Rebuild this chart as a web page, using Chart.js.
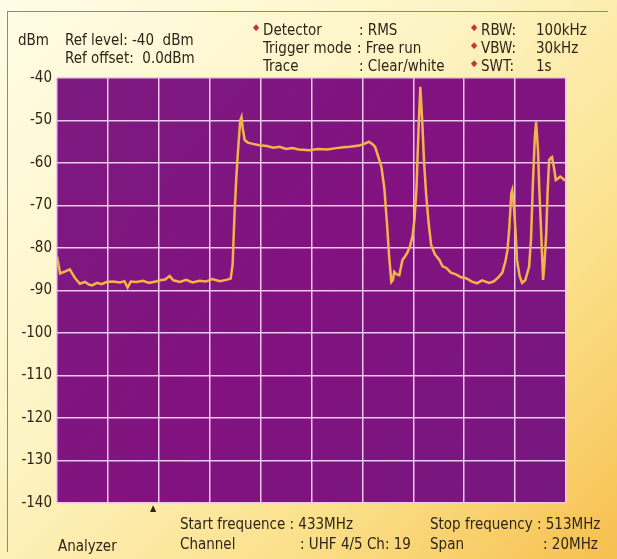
<!DOCTYPE html>
<html>
<head>
<meta charset="utf-8">
<script src="https://cdn.jsdelivr.net/npm/chart.js@4.4.1/dist/chart.umd.min.js"></script>
<style>
  html, body { margin: 0; padding: 0; }
  body {
    width: 617px; height: 559px; overflow: hidden; position: relative;
    background: linear-gradient(135deg, #fffce6 0%, #fdf4c4 40%, #fbe08a 72%, #f6bf4e 100%);
    font-family: "Liberation Sans Narrow", "DejaVu Sans Condensed", "Liberation Sans", sans-serif;
    color: #2e2418;
  }
  #frame { position: absolute; left: 7px; top: 11px; width: 600px; height: 540px;
    border-top: 1px solid #8a8a80; border-left: 1px solid #8a8a80; }
  #wrap { position: absolute; left: 0; top: 0; width: 617px; height: 559px; }
  .t { position: absolute; font-size: 15px; white-space: nowrap; line-height: 17px; }
  .d { color: #c8323c; font-size: 9px; position: absolute; }
</style>
</head>
<body>
<div id="frame"></div>
<div id="wrap"><canvas id="spectre" width="617" height="559"></canvas></div>

<div class="t" style="left:18px; top:32px;">dBm</div>
<div class="t" style="left:65px; top:32px;">Ref level: -40&nbsp; dBm</div>
<div class="t" style="left:65px; top:50px;">Ref offset:&nbsp; 0.0dBm</div>

<span class="d" style="left:253px; top:22px;">◆</span>
<div class="t" style="left:263px; top:22px;">Detector</div>
<div class="t" style="left:263px; top:40px;">Trigger mode</div>
<div class="t" style="left:263px; top:58px;">Trace</div>
<div class="t" style="left:359px; top:22px;">: RMS</div>
<div class="t" style="left:357px; top:40px;">: Free run</div>
<div class="t" style="left:359px; top:58px;">: Clear/white</div>

<span class="d" style="left:471px; top:22px;">◆</span>
<span class="d" style="left:471px; top:40px;">◆</span>
<span class="d" style="left:471px; top:58px;">◆</span>
<div class="t" style="left:481px; top:22px;">RBW:</div>
<div class="t" style="left:481px; top:40px;">VBW:</div>
<div class="t" style="left:481px; top:58px;">SWT:</div>
<div class="t" style="left:536px; top:22px;">100kHz</div>
<div class="t" style="left:536px; top:40px;">30kHz</div>
<div class="t" style="left:536px; top:58px;">1s</div>

<div class="t" style="left:150px; top:500px; font-size:9px;">▲</div>
<div class="t" style="left:180px; top:516px;">Start frequence : 433MHz</div>
<div class="t" style="left:180px; top:536px;">Channel</div>
<div class="t" style="left:300px; top:536px;">: UHF 4/5 Ch: 19</div>
<div class="t" style="left:430px; top:516px;">Stop frequency : 513MHz</div>
<div class="t" style="left:430px; top:536px;">Span</div>
<div class="t" style="left:543px; top:536px;">: 20MHz</div>
<div class="t" style="left:58px; top:538px;">Analyzer</div>

<script>
// fréquences (MHz) et niveaux (dBm)
const freqMHz = [
  433.0, 433.5, 434.3, 435.0, 435.8, 436.6, 437.4, 438.0, 438.5, 439.3,
  440.0, 440.8, 441.8, 442.9, 443.6, 444.1, 444.6, 445.5, 446.5, 447.5,
  448.5, 449.2, 450.0, 450.7, 451.3, 452.3, 453.3, 454.3, 455.4, 456.4,
  457.4, 458.6, 459.6, 460.3, 460.6, 460.9, 461.2, 461.5, 461.8, 462.0,
  462.2, 462.5, 463.0, 463.8, 464.8, 466.0, 467.0, 468.0, 469.0, 470.0,
  471.0, 472.7, 474.0, 475.5, 476.9, 478.0, 479.0, 480.5, 481.6, 482.0,
  482.6, 483.0, 483.7, 484.0, 484.45, 484.9, 485.2, 485.55, 485.8, 486.0,
  486.4, 486.8, 487.3, 487.7, 488.1, 488.5, 488.9, 489.2, 489.5, 489.8,
  490.1, 490.4, 490.7, 491.0, 491.4, 491.8, 492.4, 493.1, 493.6, 494.2,
  494.9, 495.7, 496.5, 497.3, 498.2, 499.0, 499.8, 500.9, 501.6, 502.3,
  503.0, 503.5, 503.8, 504.1, 504.4, 504.55, 504.85, 505.1, 505.3, 505.7,
  506.1, 506.6, 507.2, 507.5, 507.8, 508.1, 508.3, 508.6, 508.8, 509.1,
  509.4, 509.6, 509.9, 510.1, 510.35, 510.6, 510.8, 511.1, 511.4, 511.8,
  512.1, 512.4, 512.7, 513.0
];
const levelDbm = [
  -82, -86, -85.5, -85, -87, -88.4, -88, -88.6, -88.8, -88.2,
  -88.5, -88.0, -87.9, -88.1, -87.8, -89.3, -87.9, -88.0, -87.7, -88.2,
  -87.9, -87.6, -87.4, -86.6, -87.6, -88.0, -87.5, -88.1, -87.7, -87.9,
  -87.3, -87.8, -87.5, -87.2, -84, -72, -63, -56, -50, -49.2,
  -52, -54.6, -55.2, -55.5, -55.8, -56.0, -56.4, -56.2, -56.7, -56.5,
  -56.8, -57.0, -56.7, -56.8, -56.5, -56.3, -56.2, -55.9, -55.3, -55.0,
  -55.6, -56.2, -59.5, -61, -66, -75, -82, -88, -87.5, -85.6,
  -86.2, -86.4, -82.8, -82.0, -81.0, -79.5, -77, -73, -66, -53,
  -42.1, -50, -60, -67, -74, -79.3, -81.5, -82.8, -84.3, -84.7,
  -85.8, -86.2, -86.9, -87.1, -87.9, -88.3, -87.6, -88.2, -87.9, -87.0,
  -85.8, -83, -80.5, -75, -67.1, -66.4, -71, -77, -82.8, -86.5,
  -88.2, -87.6, -84.4, -78, -64.7, -54, -50.3, -57, -66, -76.5,
  -87.5, -84, -76.5, -67, -59.3, -58.8, -58.6, -61, -64, -63.6,
  -63.2, -63.5, -64.0, -63.8
];
const freqMin = 433;
const freqMax = 513;
const yTicks = [-40, -50, -60, -70, -80, -90, -100, -110, -120, -130, -140];

const points = freqMHz.map((f, i) => ({ x: f, y: levelDbm[i] }));

// fond violet de l'écran de l'analyseur
const fondEcran = {
  id: 'fondEcran',
  beforeDraw(chart) {
    const { ctx, chartArea: a } = chart;
    ctx.save();
    const g = ctx.createLinearGradient(a.left, a.top, a.right, a.bottom);
    g.addColorStop(0, '#7c1a80');
    g.addColorStop(0.5, '#82127f');
    g.addColorStop(1, '#76187f');
    ctx.fillStyle = g;
    ctx.fillRect(a.left, a.top, a.right - a.left, a.bottom - a.top);
    ctx.restore();
  }
};

const ctx = document.getElementById('spectre').getContext('2d');
new Chart(ctx, {
  type: 'line',
  data: {
    datasets: [{
      data: points,
      borderColor: '#f2b44a',
      borderWidth: 2.5,
      pointRadius: 0,
      tension: 0
    }]
  },
  options: {
    responsive: false,
    animation: false,
    layout: { padding: { left: 0, top: 78, right: 51, bottom: 56 } },
    plugins: { legend: { display: false }, tooltip: { enabled: false } },
    scales: {
      x: {
        type: 'linear',
        min: freqMin,
        max: freqMax,
        ticks: { display: false, stepSize: 8 },
        grid: { color: '#ecc8ec', lineWidth: 1.5, drawTicks: false },
        border: { display: false },
        afterFit: s => { s.height = 0; }
      },
      y: {
        min: -140,
        max: -40,
        afterBuildTicks: s => { s.ticks = yTicks.map(v => ({ value: v })); },
        ticks: {
          color: '#2e2418',
          padding: 5,
          font: { family: '"Liberation Sans Narrow", "DejaVu Sans Condensed", sans-serif', size: 15 }
        },
        grid: { color: '#ecc8ec', lineWidth: 1.5, drawTicks: false },
        border: { display: false },
        afterFit: s => { s.width = 57; }
      }
    }
  },
  plugins: [fondEcran]
});
</script>
</body>
</html>
